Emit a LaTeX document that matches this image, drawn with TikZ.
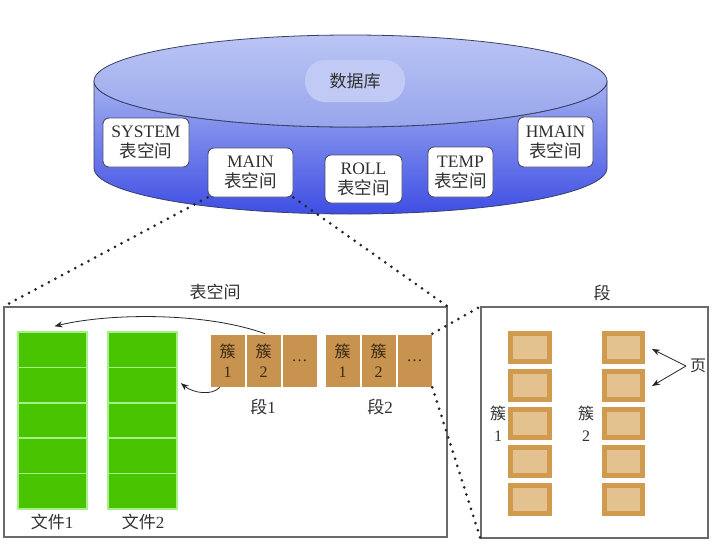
\documentclass[tikz,border=0pt]{standalone}
\usepackage{fontspec}
\setmainfont{Liberation Serif}
\newfontfamily\cjk{Noto Sans CJK SC}
\usetikzlibrary{arrows.meta}
\definecolor{cylTop}{HTML}{A3B0F0}
\definecolor{cylBot}{HTML}{3E4EE4}
\definecolor{topA}{HTML}{BAC4F4}
\definecolor{topB}{HTML}{97A6EC}
\definecolor{cylLine}{HTML}{3A3F66}
\definecolor{blobc}{HTML}{C0CAF4}
\definecolor{boxLine}{HTML}{4A4E66}
\definecolor{txt}{HTML}{303030}
\definecolor{grn}{HTML}{48C400}
\definecolor{grnLine}{HTML}{A6F088}
\definecolor{clu}{HTML}{C8924F}
\definecolor{cluTxt}{HTML}{3A2A14}
\definecolor{pgOut}{HTML}{D09B4E}
\definecolor{pgIn}{HTML}{E3C290}
\definecolor{frame}{HTML}{6A6A6A}
\begin{document}
\begin{tikzpicture}[x=1pt,y=-1pt,
  tsbox/.style={draw=boxLine, line width=0.9pt, fill=white, rounded corners=6pt,
    minimum height=49pt, inner sep=1pt, align=center, text=txt,
    font=\fontsize{17.5}{20}\selectfont},
  lbl/.style={text=txt, font=\fontsize{17}{20}\selectfont, inner sep=1pt},
  cell/.style={fill=grn, draw=grnLine, line width=1.6pt, minimum width=69pt,
    minimum height=35.4pt, inner sep=0pt},
  clus/.style={fill=clu, draw=white, line width=0.6pt, minimum width=35pt,
    minimum height=53pt, inner sep=0pt, align=center, text=cluTxt,
    font=\fontsize{16}{20}\selectfont},
  page/.style={fill=pgIn, draw=pgOut, line width=5pt, minimum width=39pt,
    minimum height=28pt, inner sep=0pt},
  frm/.style={draw=frame, line width=1.1pt, inner sep=0pt},
  dots/.style={line width=3pt, line cap=round, dash pattern=on 0pt off 7.5pt, draw=black!85},
  conn/.style={-{Stealth[length=8pt,width=6pt]}, line width=0.8pt, draw=black!85}]
\useasboundingbox (0,0) rectangle (724,552);

% cylinder
\shadedraw[top color=cylTop, bottom color=cylBot, draw=cylLine, line width=0.8pt]
  (94,81) -- (94,168) arc[start angle=180,end angle=360,x radius=256.5pt,y radius=46pt]
  -- (607,81) arc[start angle=0,end angle=-180,x radius=256.5pt,y radius=46pt] -- cycle;
\shadedraw[top color=topA, bottom color=topB, draw=cylLine, line width=0.8pt]
  (350.5,81) ellipse[x radius=256.5pt, y radius=46pt];
\node[fill=blobc, rounded corners=20pt, minimum width=100pt, minimum height=42pt,
  text=txt, font=\fontsize{17}{20}\selectfont] (db) at (355,81) {{\cjk 数据库}};

% tablespace boxes
\node[tsbox, minimum width=86pt] (system) at (146,142.5) {SYSTEM\\{\cjk 表空间}};
\node[tsbox, minimum width=85pt] (main) at (250.5,172.5) {MAIN\\{\cjk 表空间}};
\node[tsbox, minimum width=77pt, minimum height=48pt] (roll) at (363.5,179) {ROLL\\{\cjk 表空间}};
\node[tsbox, minimum width=65pt, minimum height=50pt] (temp) at (460.5,172) {TEMP\\{\cjk 表空间}};
\node[tsbox, minimum width=75pt, minimum height=50pt] (hmain) at (555.5,142) {HMAIN\\{\cjk 表空间}};

% tablespace frame
\node[frm, minimum width=443pt, minimum height=230pt] (ts) at (225.5,422) {};
\node[lbl] (tstitle) at (215,292) {{\cjk 表空间}};

% files
\foreach \i/\y in {1/349.7,2/385.1,3/420.5,4/455.9,5/491.3}{
  \node[cell] (fa\i) at (52.5,\y) {};
  \node[cell] (fb\i) at (142.5,\y) {};
}
\node[lbl] (f1lbl) at (52,522) {{\cjk 文件}1};
\node[lbl] (f2lbl) at (143,522) {{\cjk 文件}2};

% segments of clusters
\node[clus] (ca1) at (227.5,360.5) {{\cjk 簇}\\1};
\node[clus] (ca2) at (263.5,360.5) {{\cjk 簇}\\2};
\node[clus] (ca3) at (299.5,360.5) {\ldots};
\node[clus] (cb1) at (342.5,360.5) {{\cjk 簇}\\1};
\node[clus] (cb2) at (378.5,360.5) {{\cjk 簇}\\2};
\node[clus] (cb3) at (414.5,360.5) {\ldots};
\node[lbl] (s1lbl) at (263,407) {{\cjk 段}1};
\node[lbl] (s2lbl) at (380,407) {{\cjk 段}2};

% arrows cluster -> file
\draw[conn] ([xshift=1.5pt]ca2.north) .. controls (205,312) and (110,313) .. ([xshift=2pt,yshift=5pt]fa1.north);
\draw[conn] ([xshift=10pt]ca1.south west) .. controls (212,396) and (193,393) .. ([xshift=3pt,yshift=2pt]fb2.east);

% segment frame
\node[frm, minimum width=227pt, minimum height=231pt] (seg) at (594.5,422.5) {};
\node[lbl] (segtitle) at (602,293) {{\cjk 段}};

% pages
\foreach \i/\y in {1/347,2/385,3/423,4/461,5/499}{
  \node[page] (pa\i) at (530,\y) {};
  \node[page, minimum width=38pt] (pb\i) at (623.5,\y) {};
}
\node[lbl, align=center, font=\fontsize{16}{22}\selectfont] (k1) at (498,424) {{\cjk 簇}\\1};
\node[lbl, align=center, font=\fontsize{16}{22}\selectfont] (k2) at (586,424) {{\cjk 簇}\\2};
\node[lbl, font=\fontsize{16}{20}\selectfont] (ye) at (698,366) {{\cjk 页}};
\coordinate (yj) at (686,366);
\draw[conn] (yj) -- ([xshift=7pt,yshift=-2pt]pb1.east);
\draw[conn] (yj) -- ([xshift=7pt,yshift=-1pt]pb2.east);

% dotted zoom lines
\draw[dots] (main.south west) -- (ts.north west);
\draw[dots] (main.south east) -- (ts.north east);
\draw[dots] (cb3.north east) -- (seg.north west);
\draw[dots] (cb3.south east) -- (seg.south west);
\end{tikzpicture}
\end{document}
